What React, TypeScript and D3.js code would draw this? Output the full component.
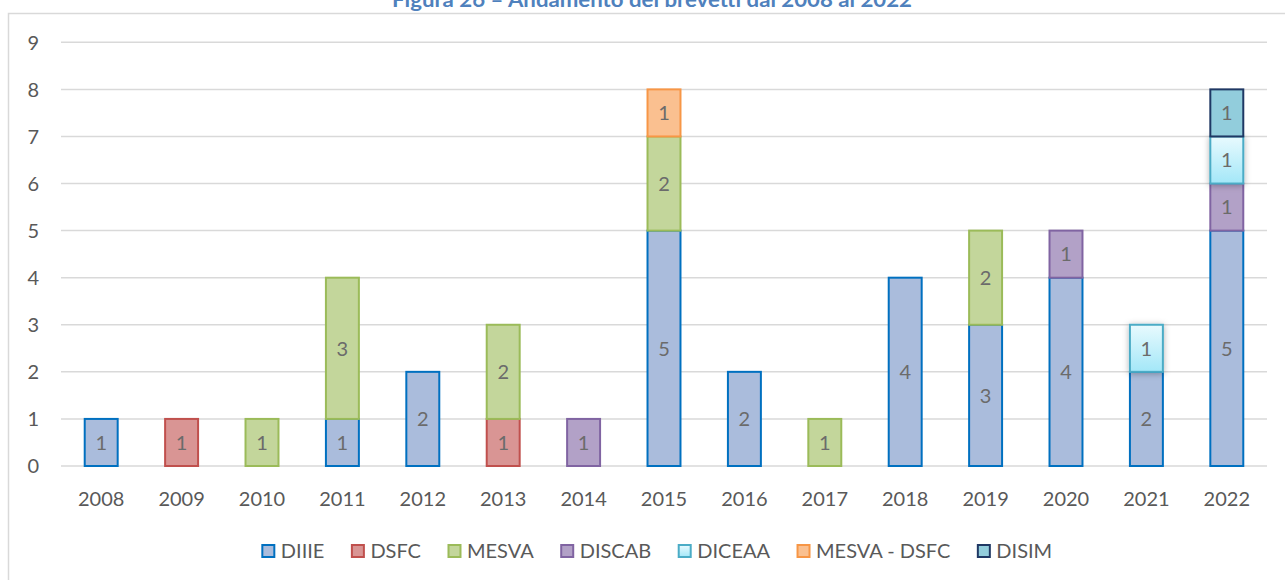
import React, { useEffect, useRef } from "react";
import * as d3 from "d3";

const years = ["2008","2009","2010","2011","2012","2013","2014","2015","2016","2017","2018","2019","2020","2021","2022"];
const seriesNames = ["DIIIE","DSFC","MESVA","DISCAB","DICEAA","MESVA - DSFC","DISIM"];
const DIIIE =        [1,0,0,1,2,0,0,5,2,0,4,3,4,2,5];
const DSFC =         [0,1,0,0,0,1,0,0,0,0,0,0,0,0,0];
const MESVA =        [0,0,1,3,0,2,0,2,0,1,0,2,0,0,0];
const DISCAB =       [0,0,0,0,0,0,1,0,0,0,0,0,1,0,1];
const DICEAA =       [0,0,0,0,0,0,0,0,0,0,0,0,0,1,1];
const MESVA_DSFC =   [0,0,0,0,0,0,0,1,0,0,0,0,0,0,0];
const DISIM =        [0,0,0,0,0,0,0,0,0,0,0,0,0,0,1];
const yTicks = [0,1,2,3,4,5,6,7,8,9];
const title = "Figura 26 – Andamento dei brevetti dal 2008 al 2022";

const fills = ["#aabcdc","#d99594","#c3d69b","#b2a1c7","url(#gradDiceaa)","#fac090","#92cddc"];
const strokes = ["#0070c0","#c0504d","#9bbb59","#8064a2","#4bacc6","#f79646","#1f3864"];

export default function App() {
  const ref = useRef<SVGSVGElement | null>(null);
  useEffect(() => {
    const svg = d3.select(ref.current);
    svg.selectAll("*").remove();
    const font = "Lato, 'Open Sans', sans-serif";
    const defs = svg.append("defs");
    const g = defs.append("linearGradient").attr("id","gradDiceaa").attr("x1",0).attr("y1",0).attr("x2",0).attr("y2",1);
    g.append("stop").attr("offset","0%").attr("stop-color","#e8fafe");
    g.append("stop").attr("offset","100%").attr("stop-color","#a3e7f8");
    const f = defs.append("filter").attr("id","shadow").attr("x","-50%").attr("y","-50%").attr("width","200%").attr("height","200%");
    f.append("feDropShadow").attr("dx",0).attr("dy",1).attr("stdDeviation",3).attr("flood-color","#000").attr("flood-opacity",0.3);

    // border
    svg.append("rect").attr("x",8.5).attr("y",13.5).attr("width",1400).attr("height",700)
      .attr("fill","#fff").attr("stroke","#d9d9d9").attr("stroke-width",1.5);

    // title (clipped at the top, as in the reference)
    svg.append("text").attr("x",652).attr("y",7).attr("text-anchor","middle")
      .attr("font-family",font).attr("font-weight","bold").attr("font-size",20)
      .attr("fill","#4f81bd").attr("textLength",520).attr("lengthAdjust","spacingAndGlyphs").text(title);

    const x = d3.scaleBand<string>().domain(years).range([61,1267]).paddingInner(0.59).paddingOuter(0.295);
    const y = d3.scaleLinear().domain([0,9]).range([466,42.3]);

    // grid
    svg.append("g").selectAll("line").data(yTicks).join("line")
      .attr("x1",61).attr("x2",1267).attr("y1",d=>y(d)).attr("y2",d=>y(d))
      .attr("stroke","#d9d9d9").attr("stroke-width",1.5);
    svg.append("g").selectAll("text").data(yTicks).join("text")
      .attr("x",39).attr("y",d=>y(d)).attr("dy","0.36em").attr("text-anchor","end")
      .attr("font-family",font).attr("font-size",20).attr("fill","#595959").text(d=>String(d));
    svg.append("g").selectAll("text").data(years).join("text")
      .attr("x",d=>(x(d) as number)+x.bandwidth()/2).attr("y",506)
      .attr("text-anchor","middle").attr("font-family",font).attr("font-size",20).attr("fill","#595959").text(d=>d);

    const series = [DIIIE,DSFC,MESVA,DISCAB,DICEAA,MESVA_DSFC,DISIM];
    const table = years.map((yr,i)=>{ const o:any = {year:yr}; seriesNames.forEach((s,k)=>o[s]=series[k][i]); return o; });
    const stacked = d3.stack<any>().keys(seriesNames)(table);
    const barsG = svg.append("g");
    const labelsG = svg.append("g");
    stacked.forEach((layer,k)=>{
      layer.forEach((seg,i)=>{
        const v = seg[1]-seg[0];
        if (v<=0) return;
        const xx = x(years[i]) as number;
        barsG.append("rect").attr("x",xx).attr("y",y(seg[1])).attr("width",x.bandwidth()).attr("height",y(seg[0])-y(seg[1]))
          .attr("fill",fills[k]).attr("stroke",strokes[k]).attr("stroke-width",2)
          .attr("filter", seriesNames[k]==="DICEAA" ? "url(#shadow)" : null);
        labelsG.append("text").attr("x",xx+x.bandwidth()/2).attr("y",(y(seg[0])+y(seg[1]))/2).attr("dy","0.36em")
          .attr("text-anchor","middle").attr("font-family",font).attr("font-size",20).attr("fill","#6b6b6b").text(String(v));
      });
    });

    // legend
    const lg = svg.append("g");
    const items = seriesNames.map((name,k)=>{
      const gi = lg.append("g");
      gi.append("rect").attr("x",0.5).attr("y",-6).attr("width",12).attr("height",12)
        .attr("fill",fills[k]).attr("stroke",strokes[k]).attr("stroke-width",2);
      const t = gi.append("text").attr("x",19).attr("y",0).attr("dy","0.36em").attr("font-family",font).attr("font-size",20)
        .attr("fill","#595959").text(name);
      const w = (t.node() as SVGTextElement).getComputedTextLength();
      return {gi, w: 19 + w};
    });
    const gap = 27;
    const total = items.reduce((a,b)=>a+b.w,0) + gap*(items.length-1);
    let cx = 657 - total/2;
    items.forEach(it=>{ it.gi.attr("transform",`translate(${cx},551)`); cx += it.w + gap; });
  }, []);
  return (
    <svg ref={ref} width={1285} height={580} style={{position:"absolute", left:0, top:0, background:"#fff"}} />
  );
}
